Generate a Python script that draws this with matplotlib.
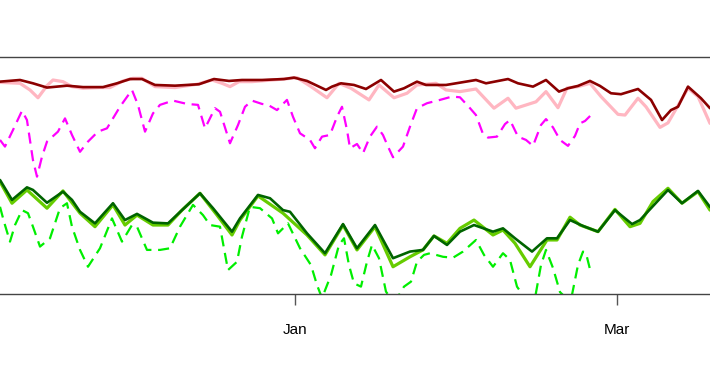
import matplotlib
matplotlib.use("Agg")
import matplotlib.pyplot as plt

# days are counted from 1 January; values on a 0-100 scale
red_days = [-54.05, -50.39, -48.01, -45.44, -41.78, -38.84, -35.18, -32.61, -30.23, -28.03,
            -25.65, -21.99, -17.59, -14.84, -12.09, -9.71, -6.05, -2.02, -0.18, 2.20,
            5.68, 6.78, 8.43, 10.81, 13.01, 15.76, 18.14, 19.97, 22.35, 24.00,
            27.67, 33.16, 35.00, 39.03, 40.86, 43.61, 45.99, 48.37, 50.02, 51.85,
            54.05, 55.88, 57.90, 59.73, 62.85, 65.23, 67.25, 68.89, 70.18, 72.01,
            74.39, 76.04]
red_vals = [89.6, 90.3, 88.9, 87.1, 87.9, 87.3, 87.3, 88.9, 90.7, 90.7,
            88.2, 87.9, 88.5, 90.7, 89.9, 90.3, 90.3, 90.7, 91.3, 89.9,
            86.1, 87.5, 88.9, 88.2, 86.5, 90.3, 85.4, 86.8, 89.6, 88.2,
            88.2, 90.3, 88.9, 90.7, 88.9, 87.5, 90.3, 85.4, 86.8, 87.8,
            89.9, 87.8, 84.7, 84.3, 86.5, 81.9, 73.4, 77.6, 79.0, 87.5,
            82.6, 78.4]

pink_days = [-54.05, -50.39, -48.56, -47.09, -45.44, -44.34, -42.51, -40.86, -38.84, -35.73,
             -33.90, -31.52, -29.68, -28.03, -25.65, -21.99, -17.96, -15.21, -13.38, -11.91,
             -10.26, -7.88, -2.02, 0.37, 2.93, 5.86, 8.06, 10.26, 13.56, 15.39,
             18.14, 20.52, 22.35, 24.00, 25.84, 27.67, 30.23, 33.16, 36.46, 39.03,
             40.49, 44.16, 45.99, 48.19, 49.84, 51.85, 54.05, 56.07, 59.18, 60.47,
             62.85, 64.31, 66.88, 68.34, 72.01, 73.84, 76.04]
pink_vals = [89.3, 88.9, 86.1, 82.8, 87.9, 90.3, 89.6, 87.5, 86.8, 87.1,
             87.1, 89.9, 91.0, 91.0, 87.5, 87.1, 88.5, 90.3, 88.9, 87.5,
             89.6, 89.6, 90.7, 91.3, 87.5, 82.8, 88.9, 86.8, 81.9, 88.2,
             82.8, 84.7, 88.2, 88.5, 88.9, 86.1, 85.4, 86.5, 78.4, 82.6,
             78.4, 81.1, 85.4, 78.6, 86.9, 87.5, 88.9, 83.3, 75.8, 75.5,
             82.6, 79.0, 70.3, 72.2, 86.8, 83.3, 72.0]

magenta_days = [-54.05, -53.14, -51.67, -50.02, -49.11, -48.01, -47.27, -46.36, -45.44, -43.43,
                -42.14, -40.86, -39.39, -37.93, -36.10, -34.45, -32.07, -29.87, -28.77, -27.48,
                -26.02, -24.74, -22.35, -19.79, -17.77, -16.49, -14.66, -13.74, -11.91, -10.44,
                -9.16, -7.88, -6.05, -4.95, -3.30, -1.47, -0.37, 0.92, 2.75, 3.66,
                4.95, 6.41, 7.70, 8.61, 9.53, 10.08, 11.36, 12.46, 13.74, 15.02,
                16.12, 17.04, 17.96, 19.79, 21.07, 22.35, 24.19, 26.57, 28.77, 30.23,
                32.07, 33.16, 34.45, 35.36, 37.01, 38.48, 39.39, 40.86, 42.33, 43.61,
                45.07, 45.99, 47.27, 48.56, 50.02, 51.30, 52.22, 53.14, 54.24]
magenta_vals = [65.0, 62.2, 69.2, 77.3, 73.4, 56.5, 49.5, 57.9, 64.3, 68.5,
                74.1, 67.1, 60.0, 64.3, 68.5, 69.9, 79.0, 86.1, 79.8, 68.5,
                76.2, 79.8, 81.6, 80.2, 79.8, 69.9, 78.4, 76.9, 63.6, 71.3,
                79.0, 81.6, 80.2, 79.8, 77.6, 81.9, 74.8, 67.8, 65.0, 61.5,
                66.4, 67.1, 74.8, 79.0, 69.2, 61.5, 63.3, 59.4, 66.4, 70.6,
                67.1, 62.2, 57.7, 62.2, 70.6, 78.4, 80.5, 81.9, 83.3, 83.0,
                78.4, 75.5, 67.5, 66.0, 66.4, 71.7, 73.4, 66.4, 65.0, 62.5,
                71.3, 73.8, 70.3, 65.0, 62.5, 66.7, 72.0, 73.0, 75.5]

dkgreen_days = [-54.05, -51.85, -49.11, -48.01, -45.44, -42.51, -40.86, -39.39, -36.65, -33.35,
                -31.15, -28.95, -26.02, -23.27, -20.70, -17.41, -15.02, -11.54, -10.08, -6.78,
                -4.58, -2.20, -0.92, 2.20, 5.50, 8.80, 11.36, 14.66, 17.96, 21.07,
                23.45, 25.47, 27.85, 30.23, 32.80, 36.28, 38.11, 40.31, 43.43, 46.17,
                48.01, 50.39, 52.77, 55.52, 58.63, 61.75, 63.21, 65.96, 68.34, 70.91,
                73.84, 76.04]
dkgreen_vals = [48.1, 39.7, 45.0, 43.9, 38.5, 43.2, 39.7, 34.7, 29.8, 38.3,
                31.2, 33.8, 30.1, 29.8, 35.4, 42.5, 36.2, 26.3, 31.9, 41.8,
                40.4, 35.4, 34.7, 25.6, 17.2, 29.5, 19.3, 29.1, 15.1, 17.9,
                18.6, 24.5, 20.7, 26.3, 29.1, 26.3, 27.7, 23.5, 17.9, 23.5,
                23.5, 31.2, 28.7, 26.3, 35.4, 29.5, 31.2, 38.0, 43.9, 38.3,
                43.5, 36.7]

ltgreen_days = [-54.05, -51.85, -49.11, -45.44, -42.51, -39.39, -36.65, -33.35, -31.15, -28.95,
                -26.02, -23.27, -20.70, -17.41, -14.29, -11.54, -10.08, -6.78, -2.20, 2.20,
                5.50, 8.80, 11.36, 14.66, 17.96, 21.07, 23.45, 25.47, 27.85, 30.23,
                32.80, 36.28, 38.11, 40.31, 43.06, 46.17, 48.01, 50.39, 52.22, 55.52,
                58.63, 61.38, 63.21, 65.60, 68.34, 70.91, 73.84, 76.04]
ltgreen_vals = [47.4, 38.3, 43.9, 36.2, 43.5, 34.1, 28.4, 37.6, 29.1, 33.3,
                29.1, 29.1, 35.4, 42.5, 33.3, 24.9, 31.2, 41.4, 34.1, 24.9,
                16.5, 29.1, 18.6, 28.4, 11.5, 15.7, 18.6, 24.5, 21.4, 27.7,
                31.2, 24.9, 27.0, 21.4, 11.5, 22.8, 22.8, 32.4, 29.1, 26.3,
                35.7, 28.4, 29.8, 39.0, 44.6, 38.3, 43.2, 35.4]

green_days = [-54.05, -53.32, -52.22, -51.30, -50.02, -48.92, -48.01, -46.72, -44.89, -43.06,
              -41.78, -40.86, -39.39, -37.93, -35.73, -33.53, -31.70, -29.87, -28.95, -27.12,
              -24.74, -22.90, -21.07, -18.69, -16.86, -15.57, -13.74, -12.28, -10.63, -9.71,
              -8.25, -6.41, -4.21, -3.11, -1.28, 0.92, 2.93, 4.03, 4.95, 6.60,
              8.06, 8.98, 9.89, 10.81, 12.09, 13.19, 14.11, 15.39, 16.67, 17.77,
              19.06, 19.97, 21.25, 22.35, 23.64, 24.74, 27.12, 28.95, 30.78, 33.16,
              34.63, 36.28, 38.11, 39.39, 40.68, 42.14, 43.98, 45.07, 45.99, 47.27,
              48.56, 50.02, 50.75, 51.85, 52.77, 53.32, 54.24]
green_vals = [36.8, 30.5, 22.1, 29.1, 35.4, 34.1, 28.4, 20.0, 23.5, 36.2,
              38.3, 28.4, 18.6, 11.5, 19.3, 31.9, 22.1, 29.1, 28.4, 18.6,
              18.6, 19.3, 28.4, 37.6, 33.3, 29.1, 28.4, 10.1, 13.6, 24.2,
              36.8, 36.2, 31.9, 25.6, 29.8, 19.3, 12.2, 3.8, -1.7, 8.0,
              20.7, 23.5, 12.2, 4.5, 3.1, 13.6, 20.7, 15.1, 1.0, -2.5,
              -0.4, 3.1, 5.2, 13.6, 16.5, 17.2, 15.7, 15.3, 17.9, 22.8,
              16.5, 11.5, 17.2, 14.4, 3.1, -1.7, -1.7, 12.2, 18.6, 11.0,
              0.8, -2.5, -0.4, 12.2, 17.9, 17.2, 8.7]

tick_days = [0, 59]
tick_labels = ["Jan", "Mar"]

plt.rcParams["font.family"] = ["Liberation Sans", "DejaVu Sans"]

fig = plt.figure(figsize=(7.1, 3.75), dpi=100)
ax = fig.add_axes([0, 0.216, 1, 0.632])

# pink under dark red, light green under dark green
ax.plot(pink_days, pink_vals, color="#FFB6C1", lw=2.3,
        solid_joinstyle="round", solid_capstyle="round")
ax.plot(red_days, red_vals, color="#8B0000", lw=1.9,
        solid_joinstyle="round", solid_capstyle="round")
ax.plot(magenta_days, magenta_vals, color="#FF00FF", lw=1.6, dashes=(5, 3))
ax.plot(ltgreen_days, ltgreen_vals, color="#66CC00", lw=2.3,
        solid_joinstyle="round", solid_capstyle="round")
ax.plot(dkgreen_days, dkgreen_vals, color="#006400", lw=1.9,
        solid_joinstyle="round", solid_capstyle="round")
ax.plot(green_days, green_vals, color="#00EE00", lw=1.6, dashes=(5, 3))

ax.set_xlim(-54.05, 76.04)
ax.set_ylim(0, 100)

ax.set_xticks(tick_days)
ax.set_xticklabels(tick_labels)
ax.set_yticks([])
ax.tick_params(axis="x", direction="out", length=8, width=1, color="#555555",
               pad=13, labelsize=11, labelcolor="black")

for side in ["left", "right"]:
    ax.spines[side].set_visible(False)
for side in ["top", "bottom"]:
    ax.spines[side].set_color("#444444")
    ax.spines[side].set_linewidth(1.0)

fig.savefig("out.png", dpi=100)
